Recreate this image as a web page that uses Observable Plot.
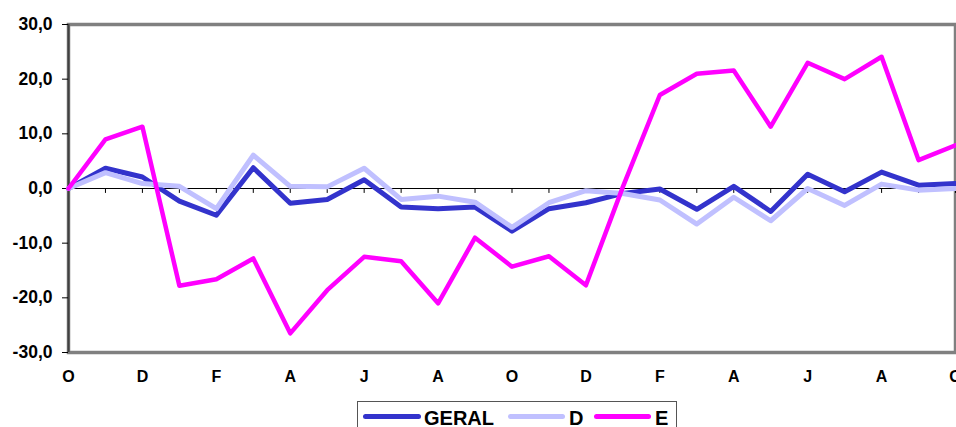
<!DOCTYPE html>
<html>
<head>
<meta charset="utf-8">
<script src="https://cdn.jsdelivr.net/npm/d3@7"></script>
<script src="https://cdn.jsdelivr.net/npm/@observablehq/plot@0.6"></script>
<style>
  body { margin: 0; background: white; }
  #wrap { position: relative; width: 956px; height: 427px; overflow: hidden; font-family: "Liberation Sans", Arial, sans-serif; }
  #legend { position: absolute; left: 357px; top: 401px; width: 320px; height: 40px; border: 1px solid #555; box-sizing: border-box; background: white; }
  .sw { position: absolute; height: 5px; border-radius: 3px; top: 12px; }
  .lt { position: absolute; top: 6px; font-size: 20px; line-height: 20px; font-weight: bold; color: black; }
</style>
</head>
<body>
<div id="wrap"></div>
<script>
const months = ["O","N","D","J","F","M","A","M","J","J","A","S","O","N","D","J","F","M","A","M","J","J","A","S","O"];
const yTicks = [-30, -20, -10, 0, 10, 20, 30];
const seriesNames = ["GERAL", "D", "E"];
const seriesColors = ["#3333CC", "#C0C0FF", "#FF00FF"];
const geral = [0, 3.7, 2.1, -2.3, -4.9, 3.8, -2.7, -2.0, 1.6, -3.4, -3.7, -3.4, -7.8, -3.7, -2.6, -0.9, -0.1, -3.8, 0.4, -4.2, 2.6, -0.6, 3.0, 0.6, 0.9];
const dSeries = [0, 2.9, 0.9, 0.4, -3.7, 6.1, 0.4, 0.3, 3.7, -2.0, -1.4, -2.5, -7.1, -2.6, -0.4, -0.9, -2.1, -6.5, -1.6, -5.9, 0.0, -3.1, 0.8, -0.3, 0.0];
const eSeries = [0, 9.0, 11.3, -17.8, -16.6, -12.8, -26.5, -18.6, -12.5, -13.3, -21.0, -9.0, -14.3, -12.4, -17.7, 0.3, 17.1, 21.0, 21.6, 11.3, 23.0, 20.0, 24.1, 5.2, 7.9];

const idx = months.map((m, i) => i);
const labelIdx = idx.filter(i => i % 2 === 0);
const minorIdx = idx.filter(i => i > 0);
const fmt = v => v.toFixed(1).replace(".", ",");

const chart = Plot.plot({
  width: 956,
  height: 395,
  marginLeft: 68,
  marginRight: 1,
  marginTop: 24,
  marginBottom: 43,
  style: { fontFamily: "'Liberation Sans', Arial, sans-serif", background: "white", overflow: "visible" },
  x: { domain: [0, months.length - 1], axis: null },
  y: { domain: [-30, 30], axis: null },
  marks: [
    Plot.frame({ stroke: "#808080", strokeWidth: 3.5 }),
    Plot.ruleX([0], { stroke: "#404040", strokeWidth: 2 }),
    Plot.ruleY([0], { stroke: "black", strokeWidth: 1 }),
    Plot.ruleX(minorIdx, { x: d => d, y1: 0, y2: -0.9, stroke: "black", strokeWidth: 1 }),
    Plot.axisY({ ticks: yTicks, tickSize: 6, tickPadding: 10, tickFormat: fmt, fontSize: 17.5, fontWeight: "bold", label: null, stroke: "black" }),
    Plot.axisX({ ticks: labelIdx, tickSize: 0, tickPadding: 18, tickFormat: i => months[i], fontSize: 16, fontWeight: "bold", label: null }),
    Plot.lineY(geral, { x: (d, i) => i, y: d => d, stroke: seriesColors[0], strokeWidth: 5, strokeLinejoin: "round" }),
    Plot.lineY(dSeries, { x: (d, i) => i, y: d => d, stroke: seriesColors[1], strokeWidth: 5, strokeLinejoin: "round" }),
    Plot.lineY(eSeries, { x: (d, i) => i, y: d => d, stroke: seriesColors[2], strokeWidth: 4.5, strokeLinejoin: "round" })
  ]
});

const wrap = document.getElementById("wrap");
wrap.appendChild(chart);

const legend = document.createElement("div");
legend.id = "legend";
const swLeft = [5, 150, 236];
const swWidth = [58, 57, 57];
const txtLeft = [66, 211, 297];
seriesNames.forEach((name, k) => {
  const sw = document.createElement("span");
  sw.className = "sw";
  sw.style.left = swLeft[k] + "px";
  sw.style.width = swWidth[k] + "px";
  sw.style.background = seriesColors[k];
  legend.appendChild(sw);
  const t = document.createElement("span");
  t.className = "lt";
  t.style.left = txtLeft[k] + "px";
  t.textContent = name;
  legend.appendChild(t);
});
wrap.appendChild(legend);
</script>
</body>
</html>
